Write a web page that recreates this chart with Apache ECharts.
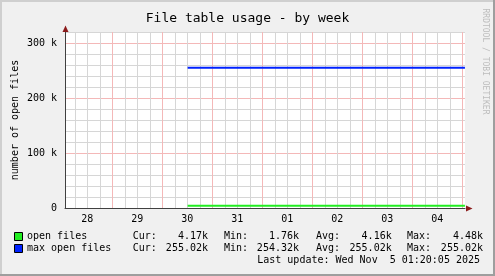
<!DOCTYPE html>
<html><head><meta charset="utf-8">
<script src="https://cdn.jsdelivr.net/npm/echarts@6/dist/echarts.min.js"></script>
<style>html,body{margin:0;padding:0;background:#f0f0f0}#c{width:495px;height:276px}</style>
</head><body><div id="c"></div>
<script>
// ---- data (x in hours since Oct 28 00:00) ----
const xStart = 1 + 20 / 60;          // Oct 28 01:20
const xEnd = 192 + 1 + 20 / 60;      // Nov 5 01:20
const dayLabels = ['28', '29', '30', '31', '01', '02', '03', '04'];
const dayCenters = [12, 36, 60, 84, 108, 132, 156, 180];
const dayBounds = [24, 48, 72, 96, 120, 144, 168, 192];
const yTickValues = [0, 100000, 200000, 300000];
const yTickLabels = ['0', '100 k', '200 k', '300 k'];

const timeHours = [60.2, 66, 72, 78, 84, 90, 96, 102, 108, 114, 120, 126, 132, 138, 144, 150, 156, 162, 168, 174, 180, 186, 193.3];
const openFiles = [4150, 4200, 4150, 4300, 4250, 4100, 4120, 4200, 4180, 4150, 4160, 4200, 4100, 4180, 4220, 4150, 4130, 4170, 4200, 4160, 4140, 4180, 4170];
const maxOpenFiles = [255020, 255020, 255020, 255020, 255020, 255020, 255020, 255020, 255020, 255020, 255020, 255020, 255020, 255020, 255020, 255020, 255020, 255020, 255020, 255020, 255020, 255020, 255020];

const seriesNames = ['open files', 'max open files'];
const seriesColors = ['#22ee22', '#0022ff'];
const statCur = ['4.17k', '255.02k'];
const statMin = ['1.76k', '254.32k'];
const statAvg = ['4.16k', '255.02k'];
const statMax = ['4.48k', '255.02k'];
const lastUpdate = 'Last update: Wed Nov  5 01:20:05 2025';

// ---- layout ----
const MONO = 'DejaVu Sans Mono';
const G = { left: 65, right: 30, top: 32, bottom: 68 };
const W = 495, H = 276;
const RED = '#f4b8b8', GRAY = '#d6d6d6';

const minorHours = [];
for (let h = 6; h < xEnd; h += 6) if (h % 24 !== 0) minorHours.push(h);
const vGrid = minorHours.map(h => [h, 0]).concat(dayBounds.map(h => [h, 1]));

function txt(text, x, y, size, align, fill, extra) {
  return Object.assign({
    type: 'text', x: x, y: y, silent: true,
    style: { text: text, font: size + 'px "' + MONO + '"', fill: fill || '#000',
      align: align, textAlign: align, verticalAlign: 'middle', textVerticalAlign: 'middle' }
  }, extra || {});
}

const graphics = [
  { type: 'rect', shape: { x: 0, y: 0, width: W, height: 2 }, style: { fill: '#cfcfcf' }, silent: true },
  { type: 'rect', shape: { x: 0, y: 0, width: 2, height: H }, style: { fill: '#cfcfcf' }, silent: true },
  { type: 'rect', shape: { x: W - 2, y: 0, width: 2, height: H }, style: { fill: '#9e9e9e' }, silent: true },
  { type: 'rect', shape: { x: 0, y: H - 2, width: W, height: 2 }, style: { fill: '#9e9e9e' }, silent: true },
  // axis arrows
  { type: 'polygon', shape: { points: [[62.5, 32], [68.5, 32], [65.5, 25.5]] }, style: { fill: '#8b1a1a' }, silent: true, z: 10 },
  { type: 'polygon', shape: { points: [[466, 205.5], [466, 211.5], [472.5, 208.5]] }, style: { fill: '#8b1a1a' }, silent: true, z: 10 },
  txt('RRDTOOL / TOBI OETIKER', 485.5, 61.5, 8, 'center', '#bdbdbd', { rotation: -Math.PI / 2 }),
  txt(lastUpdate, 480, 260, 10, 'right')
];
const colLeft = [132.7, 224, 316, 407];
const colRight = [208, 299, 391.7, 483];
const colNames = ['Cur:', 'Min:', 'Avg:', 'Max:'];
const stats = [statCur, statMin, statAvg, statMax];
[236, 248].forEach((y, i) => {
  graphics.push({ type: 'rect', shape: { x: 14.5, y: y - 3.5, width: 8, height: 8 },
    style: { fill: seriesColors[i], stroke: '#000', lineWidth: 1 }, silent: true });
  graphics.push(txt(seriesNames[i], 27, y, 10, 'left'));
  for (let c = 0; c < 4; c++) {
    graphics.push(txt(colNames[c], colLeft[c], y, 10, 'left'));
    graphics.push(txt(stats[c][i], colRight[c], y, 10, 'right'));
  }
});

const chart = echarts.init(document.getElementById('c'), null, { renderer: 'canvas' });
chart.setOption({
  animation: false,
  backgroundColor: '#f0f0f0',
  title: {
    text: 'File table usage - by week', left: 'center', top: 7,
    textStyle: { fontFamily: MONO, fontSize: 13, fontWeight: 'normal', color: '#000' }
  },
  grid: Object.assign({ containLabel: false, outerBoundsMode: 'none', backgroundColor: '#fff', show: true, borderWidth: 0 }, G),
  xAxis: {
    type: 'value', min: xStart, max: xEnd,
    axisLine: { show: true, onZero: false, lineStyle: { color: '#404040', width: 1 } },
    axisTick: { show: false },
    axisLabel: {
      customValues: dayCenters, margin: 6,
      fontFamily: MONO, fontSize: 10, color: '#000',
      formatter: v => dayLabels[dayCenters.indexOf(Math.round(v))] || ''
    },
    splitLine: { show: false }
  },
  yAxis: {
    type: 'value', min: 0, max: 320000, interval: 20000,
    name: 'number of open files', nameLocation: 'middle', nameGap: 45, nameRotate: 90,
    nameMoveOverlap: false,
    nameTextStyle: { fontFamily: MONO, fontSize: 10, color: '#000' },
    axisLine: { show: true, lineStyle: { color: '#404040', width: 1 } },
    axisTick: { show: false },
    axisLabel: {
      customValues: yTickValues, margin: 8,
      fontFamily: MONO, fontSize: 10, color: '#000',
      formatter: v => yTickLabels[yTickValues.indexOf(v)]
    },
    splitLine: { show: true, lineStyle: { color: [RED, GRAY, GRAY, GRAY, GRAY], width: 1 } }
  },
  series: [
    {
      type: 'custom', name: 'vgrid', data: vGrid, z: 1, silent: true, clip: false,
      encode: { x: 0 },
      renderItem: function (params, api) {
        const cs = params.coordSys;
        const x = Math.round(api.coord([api.value(0), 0])[0]) + 0.5;
        return {
          type: 'line',
          shape: { x1: x, y1: cs.y, x2: x, y2: cs.y + cs.height },
          style: { stroke: api.value(1) ? RED : GRAY, lineWidth: 1 }
        };
      }
    },
    {
      type: 'line', name: seriesNames[0], data: timeHours.map((h, i) => [h, openFiles[i]]),
      showSymbol: false, symbol: 'none', lineStyle: { color: seriesColors[0], width: 2 }, z: 5
    },
    {
      type: 'line', name: seriesNames[1], data: timeHours.map((h, i) => [h, maxOpenFiles[i]]),
      showSymbol: false, symbol: 'none', lineStyle: { color: seriesColors[1], width: 2 }, z: 5
    }
  ],
  graphic: graphics
});
</script></body></html>
